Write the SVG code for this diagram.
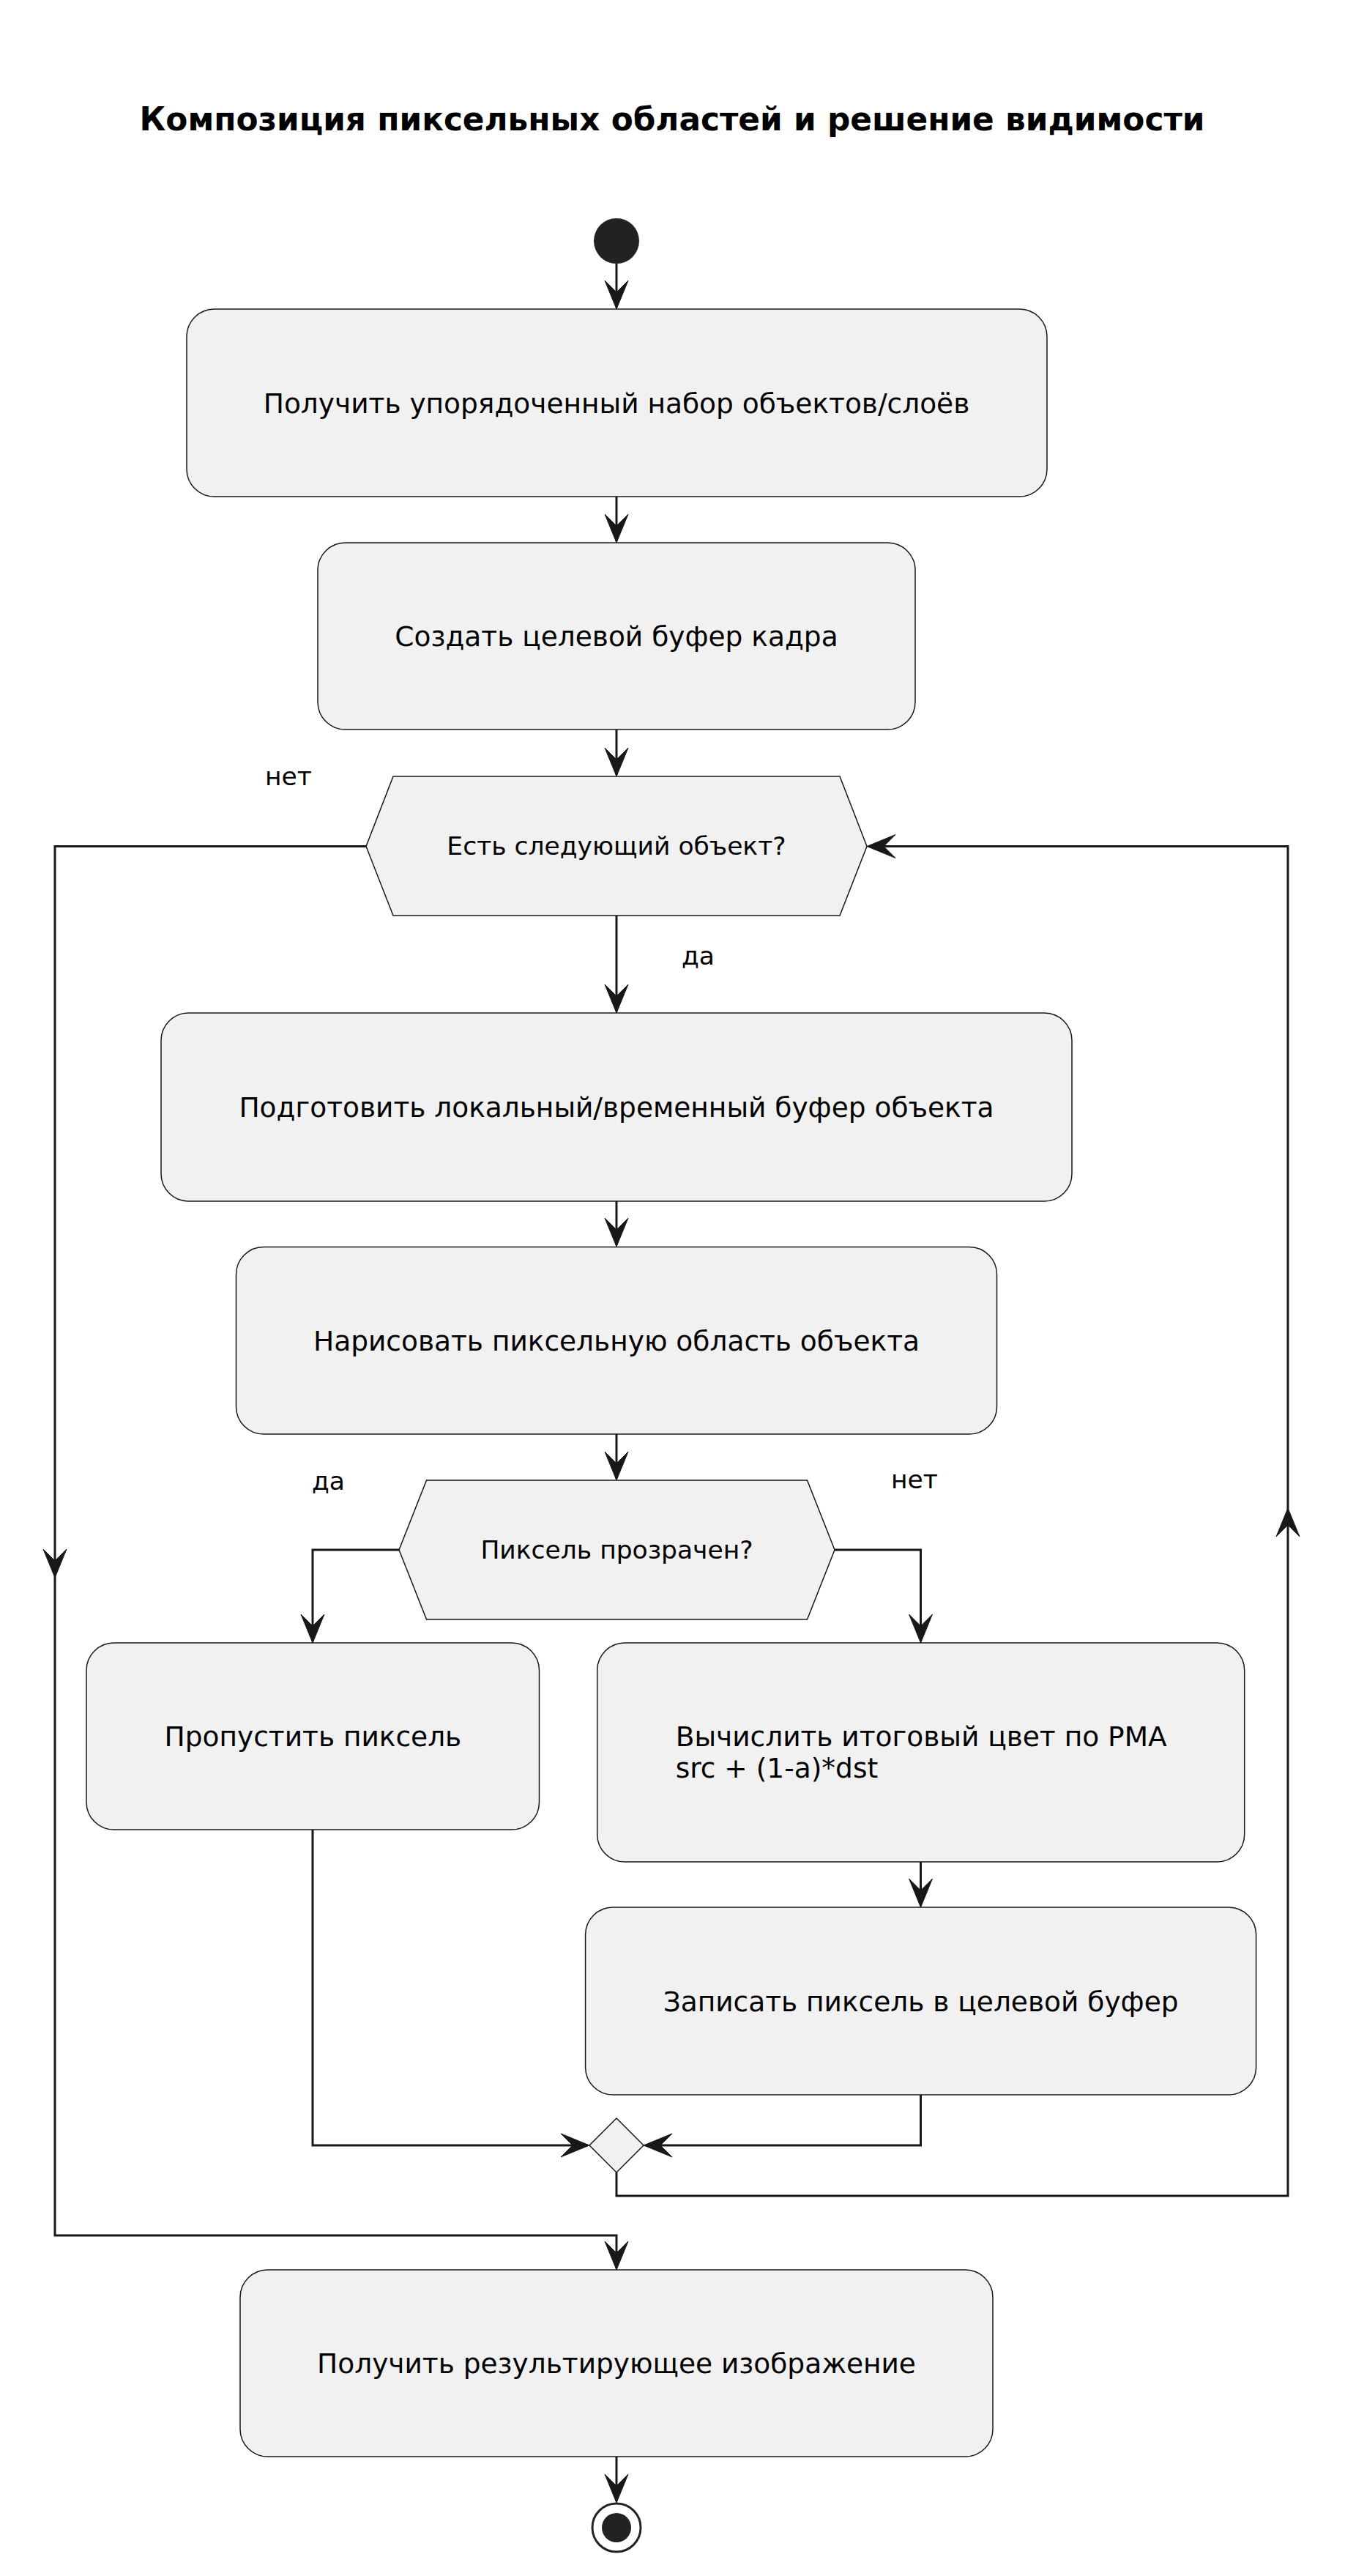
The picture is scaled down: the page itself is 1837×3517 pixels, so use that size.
<svg xmlns="http://www.w3.org/2000/svg" xmlns:xlink="http://www.w3.org/1999/xlink" width="1837" height="3517" viewBox="0 0 1837 3517">
<style>
.box{fill:#F1F1F1;stroke:#181818;stroke-width:1.5}
.t{font-family:"DejaVu Sans","Liberation Sans",sans-serif;font-size:37.5px;fill:#000}
.tc{text-anchor:middle}
.d{font-family:"DejaVu Sans","Liberation Sans",sans-serif;font-size:34.5px;fill:#000}
.title{font-family:"DejaVu Sans","Liberation Sans",sans-serif;font-size:43.8px;font-weight:bold;fill:#000;text-anchor:middle}
.c{fill:none;stroke:#181818;stroke-width:3}
.ah{fill:#181818;stroke:#181818;stroke-width:1}
</style>
<defs>
<polygon id="ah" points="-16,-39 0,0 16,-39 0,-23"/>
</defs>
<rect width="1837" height="3517" fill="#FFFFFF"/>
<text class="title" x="918" y="178">Композиция пиксельных областей и решение видимости</text>

<g id="connectors">
<line class="c" x1="842" y1="360" x2="842" y2="420"/>
<use href="#ah" class="ah" transform="translate(842,422)"/>
<line class="c" x1="842" y1="678" x2="842" y2="739"/>
<use href="#ah" class="ah" transform="translate(842,741)"/>
<line class="c" x1="842" y1="996" x2="842" y2="1058"/>
<use href="#ah" class="ah" transform="translate(842,1060)"/>
<line class="c" x1="842" y1="1250" x2="842" y2="1381"/>
<use href="#ah" class="ah" transform="translate(842,1383)"/>
<line class="c" x1="842" y1="1640" x2="842" y2="1700"/>
<use href="#ah" class="ah" transform="translate(842,1702)"/>
<line class="c" x1="842" y1="1958" x2="842" y2="2019"/>
<use href="#ah" class="ah" transform="translate(842,2021)"/>
<polyline class="c" points="545,2116 427,2116 427,2241"/>
<use href="#ah" class="ah" transform="translate(427,2243)"/>
<polyline class="c" points="1140,2116 1257.5,2116 1257.5,2241"/>
<use href="#ah" class="ah" transform="translate(1257.5,2243)"/>
<line class="c" x1="1257.5" y1="2542" x2="1257.5" y2="2602"/>
<use href="#ah" class="ah" transform="translate(1257.5,2604)"/>
<polyline class="c" points="427,2498 427,2929 803,2929"/>
<use href="#ah" class="ah" transform="translate(805,2929) rotate(-90)"/>
<polyline class="c" points="1257.5,2860 1257.5,2929 881,2929"/>
<use href="#ah" class="ah" transform="translate(879,2929) rotate(90)"/>
<polyline class="c" points="842,2966 842,2998 1759,2998 1759,1155.5 1186,1155.5"/>
<use href="#ah" class="ah" transform="translate(1759,2059) rotate(180)"/>
<use href="#ah" class="ah" transform="translate(1184,1155.5) rotate(90)"/>
<polyline class="c" points="500,1155.5 75,1155.5 75,3052 842,3052 842,3097"/>
<use href="#ah" class="ah" transform="translate(75,2154)"/>
<use href="#ah" class="ah" transform="translate(842,3099)"/>
<line class="c" x1="842" y1="3354" x2="842" y2="3415"/>
<use href="#ah" class="ah" transform="translate(842,3417)"/>
</g>

<g id="start">
<circle cx="842" cy="329" r="31" fill="#222222"/>
</g>

<g id="n1">
<rect class="box" x="255" y="422" width="1175" height="256" rx="37.5"/>
<text class="t tc" x="842" y="564">Получить упорядоченный набор объектов/слоёв</text>
</g>

<g id="n2">
<rect class="box" x="434" y="741" width="816" height="255" rx="37.5"/>
<text class="t tc" x="842" y="882">Создать целевой буфер кадра</text>
</g>

<g id="d1">
<polygon class="box" points="500,1155.5 537,1060 1147,1060 1184,1155.5 1147,1250 537,1250"/>
<text class="d tc" x="842" y="1167">Есть следующий объект?</text>
</g>
<text class="d" x="362" y="1072">нет</text>
<text class="d" x="931" y="1317">да</text>

<g id="n3">
<rect class="box" x="220" y="1383" width="1244" height="257" rx="37.5"/>
<text class="t tc" x="842" y="1525">Подготовить локальный/временный буфер объекта</text>
</g>

<g id="n4">
<rect class="box" x="322.5" y="1702.5" width="1039" height="255.5" rx="37.5"/>
<text class="t tc" x="842" y="1844">Нарисовать пиксельную область объекта</text>
</g>

<g id="d2">
<polygon class="box" points="545,2116 582.5,2021 1102.5,2021 1140,2116 1102.5,2211 582.5,2211"/>
<text class="d tc" x="842.5" y="2128">Пиксель прозрачен?</text>
</g>
<text class="d" x="426" y="2034">да</text>
<text class="d" x="1217" y="2032">нет</text>

<g id="n5">
<rect class="box" x="118" y="2243" width="618.5" height="255" rx="37.5"/>
<text class="t tc" x="427.4" y="2384">Пропустить пиксель</text>
</g>

<g id="n6">
<rect class="box" x="815.7" y="2243" width="884" height="299" rx="37.5"/>
<text class="t" x="922.7" y="2384">Вычислить итоговый цвет по PMA</text>
<text class="t" x="922.7" y="2427">src + (1-a)*dst</text>
</g>

<g id="n7">
<rect class="box" x="799.6" y="2604" width="916" height="256" rx="37.5"/>
<text class="t tc" x="1257.6" y="2746">Записать пиксель в целевой буфер</text>
</g>

<g id="merge">
<polygon class="box" points="842,2892 879,2929 842,2966 805,2929"/>
</g>

<g id="n8">
<rect class="box" x="328" y="3099" width="1028" height="255" rx="37.5"/>
<text class="t tc" x="842" y="3240">Получить результирующее изображение</text>
</g>

<g id="end">
<circle cx="842" cy="3451" r="33" fill="#FFFFFF" stroke="#222222" stroke-width="3"/>
<circle cx="842" cy="3451" r="20" fill="#222222"/>
</g>
</svg>
